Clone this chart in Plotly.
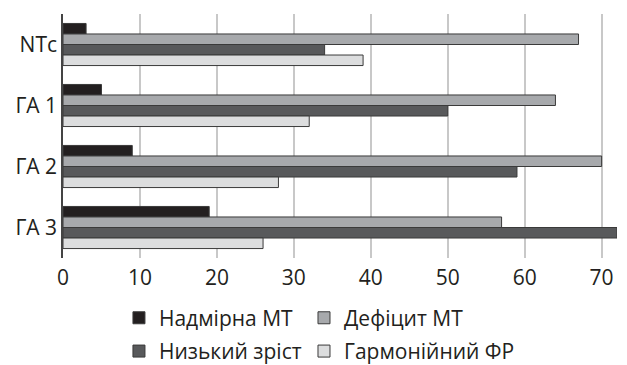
import plotly.graph_objects as go

categories = ["NTc", "ГА 1", "ГА 2", "ГА 3"]
series_names = ["Надмірна МТ", "Дефіцит МТ", "Низький зріст", "Гармонійний ФР"]
nadmirna = [3, 5, 9, 19]
defitsyt = [67, 64, 70, 57]
nyzkyi = [34, 50, 59, 72]
harmoniinyi = [39, 32, 28, 26]
x_ticks = [0, 10, 20, 30, 40, 50, 60, 70]

colors = ["#231f20", "#a7a9ac", "#58595b", "#dcddde"]
values = [nadmirna, defitsyt, nyzkyi, harmoniinyi]
legend_ids = ["legend", "legend2", "legend", "legend2"]

FONT = "Open Sans"

fig = go.Figure()
for i, (name, vals, col, lg) in enumerate(zip(series_names, values, colors, legend_ids)):
    fig.add_trace(go.Bar(
        y=categories, x=vals, name=name, orientation="h",
        marker=dict(color=col, line=dict(color="#3a3a3a", width=1)),
        legend=lg, legendgroup=f"g{i}",
    ))

legend_common = dict(
    orientation="v", xanchor="left", yanchor="middle",
    font=dict(family=FONT, size=21, color="#231f20"),
    itemwidth=30, bgcolor="rgba(0,0,0,0)", tracegroupgap=3,
    xref="paper", yref="paper",
)

fig.update_layout(
    width=619, height=357,
    margin=dict(l=55, r=10, t=6, b=107, autoexpand=False),
    paper_bgcolor="white", plot_bgcolor="white",
    barmode="group", bargap=0.31, bargroupgap=0,
    font=dict(family=FONT, size=16, color="#231f20"),
    legend=dict(x=0.101, y=-0.314, **legend_common),
    legend2=dict(x=0.435, y=-0.314, **legend_common),
    showlegend=True,
)

fig.update_xaxes(
    range=[0, 72], tickvals=x_ticks, showgrid=True, gridcolor="#c8c8c8", gridwidth=1.5,
    zeroline=False, showline=False, ticks="outside", ticklen=1,
    tickcolor="rgba(0,0,0,0)", tickfont=dict(family=FONT, size=21, color="#231f20"),
    automargin=False,
)
fig.update_yaxes(
    autorange="reversed", showline=True, linecolor="#444444", linewidth=1.5,
    ticks="", tickfont=dict(family=FONT, size=21, color="#231f20"),
    automargin=False,
)

fig.write_html("out.html")
